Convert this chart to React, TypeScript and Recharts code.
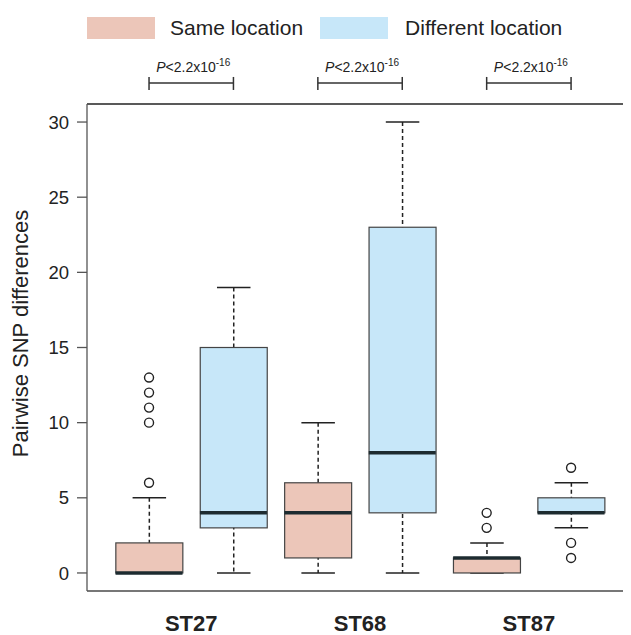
import {
  ComposedChart,
  Bar,
  Scatter,
  XAxis,
  YAxis,
  Label,
  Legend,
  ReferenceLine,
} from "recharts";

const groups = ["ST27", "ST68", "ST87"];
// each box: [min, q1, median, q3, max]
const sameLocation = [
  [0, 0, 0, 2, 5],
  [0, 1, 4, 6, 10],
  [0, 0, 1, 1, 2],
];
const differentLocation = [
  [0, 3, 4, 15, 19],
  [0, 4, 8, 23, 30],
  [3, 4, 4, 5, 6],
];
const sameOutliers = [[6, 10, 11, 12, 13], [], [3, 4]];
const differentOutliers = [[], [], [1, 2, 7]];
const yTicks = [0, 5, 10, 15, 20, 25, 30];
const pValueLabel = "<2.2x10";
const pValueExp = "-16";

const PINK = "#ecc6b9";
const BLUE = "#c7e7f9";
const FONT = '"Liberation Sans", Arial, Helvetica, sans-serif';
const BOX_WIDTH = 67;
const BRACKET_Y = 32.6;

const toBox = (stats: number[], pos: number, fill: string) => ({
  pos,
  min: stats[0],
  q1: stats[1],
  median: stats[2],
  q3: stats[3],
  max: stats[4],
  fill,
});

const boxes = groups.flatMap((_, i) => [
  toBox(sameLocation[i], 2 * i + 1, PINK),
  toBox(differentLocation[i], 2 * i + 2, BLUE),
]);

const outliers = groups.flatMap((_, i) => [
  ...sameOutliers[i].map((v) => ({ pos: 2 * i + 1, value: v })),
  ...differentOutliers[i].map((v) => ({ pos: 2 * i + 2, value: v })),
]);

const groupTicks = groups.map((_, i) => 2 * i + 1.5);

const Whisker = (props: any) => {
  const { x, y, width, height } = props;
  const cx = x + width / 2;
  const cap = width / 4;
  return (
    <g stroke="#222" strokeWidth={1.5}>
      <line x1={cx} x2={cx} y1={y} y2={y + height} strokeDasharray="4 3" />
      <line x1={cx - cap} x2={cx + cap} y1={y} y2={y} />
      <line x1={cx - cap} x2={cx + cap} y1={y + height} y2={y + height} />
    </g>
  );
};

const BoxRect = (props: any) => {
  const { x, y, width, height, payload } = props;
  return (
    <rect
      x={x}
      y={y}
      width={width}
      height={height}
      fill={payload.fill}
      stroke="#444"
      strokeWidth={1.2}
    />
  );
};

const MedianLine = (props: any) => {
  const { cx, cy } = props;
  return (
    <line
      x1={cx - BOX_WIDTH / 2}
      x2={cx + BOX_WIDTH / 2}
      y1={cy}
      y2={cy}
      stroke="#1d2b30"
      strokeWidth={3.5}
    />
  );
};

const Outlier = (props: any) => (
  <circle cx={props.cx} cy={props.cy} r={4.5} fill="none" stroke="#222" strokeWidth={1.4} />
);

const Bracket = (props: any) => {
  const { x1, x2, y1 } = props;
  const mid = (x1 + x2) / 2;
  return (
    <g>
      <g stroke="#333" strokeWidth={1.5}>
        <line x1={x1} x2={x2} y1={y1} y2={y1} />
        <line x1={x1} x2={x1} y1={y1 - 6} y2={y1 + 7} />
        <line x1={x2} x2={x2} y1={y1 - 6} y2={y1 + 7} />
      </g>
      <text x={mid + 2} y={y1 - 11} textAnchor="middle" fontSize={14} fill="#222" fontFamily={FONT}>
        <tspan fontStyle="italic">P</tspan>
        <tspan>{pValueLabel}</tspan>
        <tspan fontSize={10} dy={-6}>
          {pValueExp}
        </tspan>
      </text>
    </g>
  );
};

const YTitle = (props: any) => {
  const { viewBox } = props;
  const x = viewBox.x + 20;
  const y = viewBox.y + viewBox.height / 2 - 14;
  return (
    <text
      x={x}
      y={y}
      transform={`rotate(-90, ${x}, ${y})`}
      textAnchor="middle"
      fontSize={22}
      fill="#222"
      fontFamily={FONT}
    >
      Pairwise SNP differences
    </text>
  );
};

const LegendContent = () => (
  <div
    style={{
      display: "flex",
      alignItems: "center",
      height: 40,
      fontFamily: FONT,
      fontSize: 21,
      color: "#222",
    }}
  >
    <div style={{ width: 68, height: 22, background: PINK }} />
    <span style={{ marginLeft: 15, marginRight: 17 }}>Same location</span>
    <div style={{ width: 68, height: 22, background: BLUE }} />
    <span style={{ marginLeft: 17 }}>Different location</span>
  </div>
);

export default function App() {
  return (
    <ComposedChart
      width={623}
      height={627}
      data={boxes}
      margin={{ top: 56, right: 0, bottom: 0, left: 0 }}
      barGap={-BOX_WIDTH}
    >
      <Legend
        verticalAlign="top"
        content={<LegendContent />}
        wrapperStyle={{ top: 0, left: 79, width: 540 }}
      />
      <XAxis
        type="number"
        dataKey="pos"
        domain={[0.265, 6.71]}
        allowDataOverflow
        ticks={groupTicks}
        tickFormatter={(v) => groups[Math.round((v - 1.5) / 2)]}
        tickLine={false}
        tickSize={0}
        tickMargin={24}
        height={44}
        axisLine={{ stroke: "#777", strokeWidth: 2 }}
        tick={{ fontSize: 22, fontWeight: "bold", fill: "#222", fontFamily: FONT }}
      />
      <YAxis
        type="number"
        domain={[-1.2, 31.2]}
        ticks={yTicks}
        width={79}
        tickSize={10}
        tickMargin={8}
        axisLine={{ stroke: "#555", strokeWidth: 1.3 }}
        tickLine={{ stroke: "#555", strokeWidth: 1.3 }}
        tick={{ fontSize: 18.5, fill: "#222", fontFamily: FONT }}
      >
        <Label content={<YTitle />} />
      </YAxis>
      <ReferenceLine y={31.2} stroke="#222" strokeWidth={1.5} />
      <Bar
        dataKey={(d: any) => [d.min, d.max]}
        barSize={BOX_WIDTH}
        shape={<Whisker />}
        isAnimationActive={false}
      />
      <Bar
        dataKey={(d: any) => [d.q1, d.q3]}
        barSize={BOX_WIDTH}
        shape={<BoxRect />}
        isAnimationActive={false}
      />
      <Scatter dataKey="median" shape={<MedianLine />} isAnimationActive={false} />
      <Scatter data={outliers} dataKey="value" shape={<Outlier />} isAnimationActive={false} />
      {groups.map((g, i) => (
        <ReferenceLine
          key={g}
          segment={[
            { x: 2 * i + 1, y: BRACKET_Y },
            { x: 2 * i + 2, y: BRACKET_Y },
          ]}
          ifOverflow="visible"
          shape={<Bracket />}
        />
      ))}
    </ComposedChart>
  );
}
